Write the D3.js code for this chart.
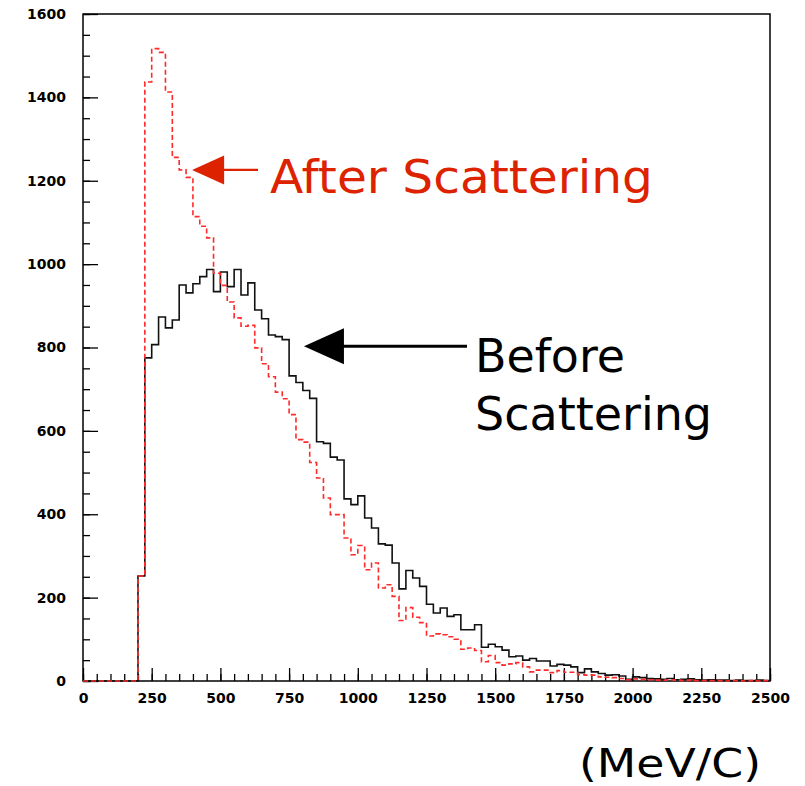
<!DOCTYPE html>
<html>
<head>
<meta charset="utf-8">
<script src="https://cdn.jsdelivr.net/npm/d3@7/dist/d3.min.js"></script>
<style>
  body { margin: 0; background: #fff; }
  svg { display: block; }
  .tick text { font-family: "DejaVu Sans", sans-serif; font-weight: bold; font-size: 14px; fill: #000; }
  .annot { font-family: "DejaVu Sans", sans-serif; }
</style>
</head>
<body>
<svg id="chart"></svg>
<script>
// momentum histograms, 25 MeV bins from 0 to 2500
const binWidth = 25;
const binStarts = d3.range(0, 2500, binWidth);

const beforeCounts = [
  0, 0, 0, 0, 0, 0, 0, 0, 252, 775,
  807, 873, 847, 866, 950, 931, 953, 970, 987, 934,
  981, 946, 987, 926, 955, 890, 869, 830, 826, 819,
  732, 716, 697, 678, 574, 570, 537, 530, 437, 423,
  444, 391, 367, 329, 326, 283, 221, 265, 247, 227,
  184, 163, 175, 155, 159, 123, 123, 135, 81, 88,
  82, 74, 58, 60, 50, 54, 48, 48, 36, 40,
  38, 34, 20, 29, 22, 18, 14, 15, 12, 4,
  10, 8, 6, 5, 4, 6, 3, 4, 5, 3,
  2, 3, 2, 2, 1, 2, 1, 1, 2, 1
];

const afterCounts = [
  0, 0, 0, 0, 0, 0, 0, 0, 252, 1437,
  1517, 1508, 1413, 1256, 1226, 1208, 1114, 1091, 1063, 978,
  949, 909, 871, 851, 853, 799, 761, 730, 693, 677,
  639, 579, 573, 524, 487, 439, 399, 399, 343, 303,
  325, 267, 283, 223, 231, 203, 145, 176, 153, 140,
  108, 113, 111, 106, 100, 76, 79, 73, 46, 61,
  44, 38, 41, 44, 34, 22, 26, 26, 20, 25,
  21, 21, 15, 14, 14, 10, 9, 8, 6, 3,
  5, 4, 3, 2, 2, 3, 2, 1, 2, 1,
  1, 1, 1, 0, 1, 1, 0, 1, 0, 1
];

const xTicks = [0, 250, 500, 750, 1000, 1250, 1500, 1750, 2000, 2250, 2500];
const yTicks = [0, 200, 400, 600, 800, 1000, 1200, 1400, 1600];

// annotation arrow tips, in data units
const afterTip = [397, 1226];
const beforeTip = [804, 803];

const W = 805, H = 786;
const margin = { top: 14, right: 35, bottom: 105, left: 83 };
const width = W - margin.left - margin.right;
const height = H - margin.top - margin.bottom;

const svg = d3.select("#chart").attr("width", W).attr("height", H);
const g = svg.append("g").attr("transform", `translate(${margin.left},${margin.top})`);

const x = d3.scaleLinear().domain([0, 2500]).range([0, width]);
const y = d3.scaleLinear().domain([0, 1600]).range([height, 0]);

// minor ticks every 50
g.append("g")
  .attr("transform", `translate(0,${height})`)
  .call(d3.axisBottom(x).tickValues(d3.range(0, 2501, 50)).tickSize(-7).tickFormat(""))
  .call(a => a.select(".domain").remove())
  .selectAll("line").attr("stroke", "#000").attr("stroke-width", 1.3);

g.append("g")
  .call(d3.axisLeft(y).tickValues(d3.range(0, 1601, 50)).tickSize(-7).tickFormat(""))
  .call(a => a.select(".domain").remove())
  .selectAll("line").attr("stroke", "#000").attr("stroke-width", 1.3);

// major ticks + labels
g.append("g")
  .attr("transform", `translate(0,${height})`)
  .call(d3.axisBottom(x).tickValues(xTicks).tickSize(-13).tickPadding(12).tickFormat(d3.format("d")))
  .call(a => a.select(".domain").remove())
  .call(a => a.selectAll("line").attr("stroke", "#000").attr("stroke-width", 1.3));

g.append("g")
  .call(d3.axisLeft(y).tickValues(yTicks).tickSize(-15).tickPadding(17).tickFormat(d3.format("d")))
  .call(a => a.select(".domain").remove())
  .call(a => a.selectAll("line").attr("stroke", "#000").attr("stroke-width", 1.3));

// frame
g.append("rect")
  .attr("width", width).attr("height", height)
  .attr("fill", "none").attr("stroke", "#000").attr("stroke-width", 1.5);

// histogram outlines
function histPoints(counts) {
  const pts = binStarts.map((b, i) => [b, counts[i]]);
  pts.push([2500, 0]);
  return pts;
}

const step = d3.line()
  .x(d => x(d[0]))
  .y(d => y(d[1]))
  .curve(d3.curveStepAfter);

g.append("path")
  .datum(histPoints(beforeCounts))
  .attr("d", step)
  .attr("fill", "none")
  .attr("stroke", "#111")
  .attr("stroke-width", 1.6);

g.append("path")
  .datum(histPoints(afterCounts))
  .attr("d", step)
  .attr("fill", "none")
  .attr("stroke", "#ff2a2a")
  .attr("stroke-width", 1.6)
  .attr("stroke-dasharray", "5,3");

// arrows and labels
function arrow(tip, headLen, headHalf, lineEnd, color, lw) {
  const tx = x(tip[0]), ty = y(tip[1]);
  g.append("path")
    .attr("d", `M${tx},${ty}L${tx + headLen},${ty - headHalf}L${tx + headLen},${ty + headHalf}Z`)
    .attr("fill", color);
  g.append("line")
    .attr("x1", tx + headLen - 1).attr("y1", ty)
    .attr("x2", lineEnd).attr("y2", ty)
    .attr("stroke", color).attr("stroke-width", lw);
}

arrow(afterTip, 32, 14.5, 175, "#dd2200", 2.2);
arrow(beforeTip, 40, 18, 384, "#000", 3);

g.append("text").attr("class", "annot")
  .attr("x", 187).attr("y", 179)
  .attr("font-size", 47).attr("fill", "#dd2200")
  .attr("textLength", 383).attr("lengthAdjust", "spacingAndGlyphs")
  .text("After Scattering");

g.append("text").attr("class", "annot")
  .attr("x", 392).attr("y", 357.5)
  .attr("font-size", 47).attr("fill", "#000")
  .attr("textLength", 150).attr("lengthAdjust", "spacingAndGlyphs")
  .text("Before");

g.append("text").attr("class", "annot")
  .attr("x", 392).attr("y", 416)
  .attr("font-size", 47).attr("fill", "#000")
  .attr("textLength", 237).attr("lengthAdjust", "spacingAndGlyphs")
  .text("Scattering");

svg.append("text").attr("class", "annot")
  .attr("x", 579).attr("y", 777)
  .attr("font-size", 39).attr("fill", "#000")
  .attr("textLength", 182).attr("lengthAdjust", "spacingAndGlyphs")
  .text("(MeV/C)");
</script>
</body>
</html>
